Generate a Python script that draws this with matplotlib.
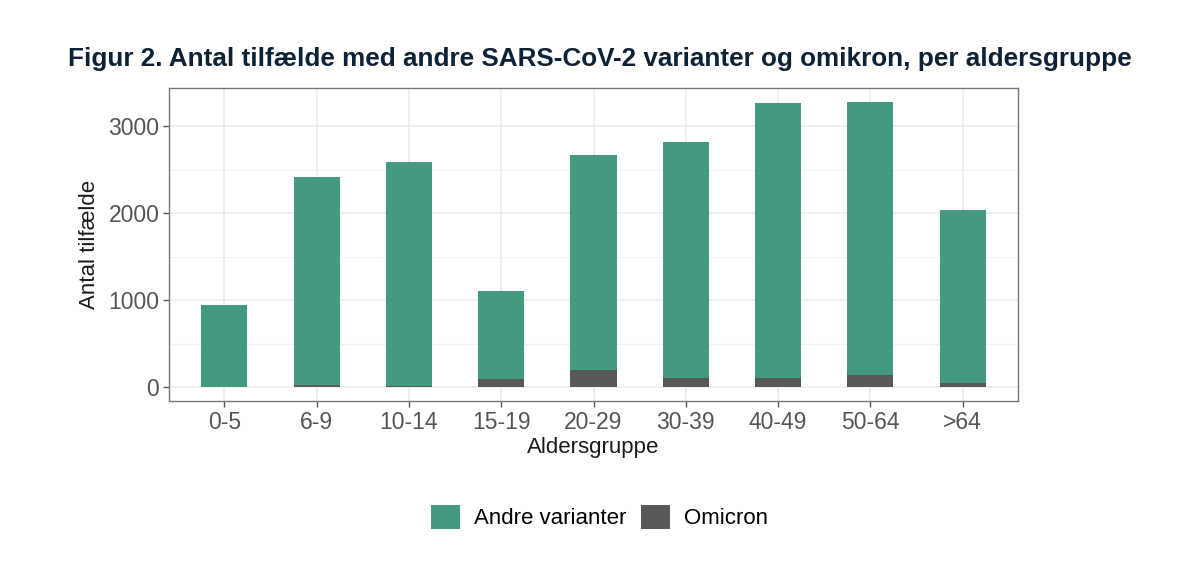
import matplotlib
matplotlib.use("Agg")
import matplotlib.pyplot as plt
from matplotlib.patches import Patch
from matplotlib.ticker import MultipleLocator

# data
age_groups = ["0-5", "6-9", "10-14", "15-19", "20-29", "30-39", "40-49", "50-64", ">64"]
omicron = [3, 19, 17, 92, 200, 104, 104, 142, 50]
andre = [942, 2396, 2575, 1016, 2465, 2711, 3158, 3135, 1985]
y_ticks = [0, 1000, 2000, 3000]

green = "#449a80"
grey = "#595959"

plt.rcParams["font.family"] = ["Liberation Sans", "DejaVu Sans"]

fig = plt.figure(figsize=(11.99, 5.74), dpi=100)
ax = fig.add_axes([0.141, 0.301, 0.708, 0.546])

x = list(range(len(age_groups)))
ax.bar(x, omicron, width=0.5, color=grey, zorder=3)
ax.bar(x, andre, width=0.5, bottom=omicron, color=green, zorder=3)

totals = [a + o for a, o in zip(andre, omicron)]
top = max(totals)
ax.set_ylim(-0.05 * top, 1.05 * top)
ax.set_xlim(-0.6, len(age_groups) - 0.4)

ax.set_xticks(x)
ax.set_xticklabels(age_groups)
ax.set_yticks(y_ticks)
ax.yaxis.set_minor_locator(MultipleLocator(500))

ax.grid(which="major", color="#ebebeb", linewidth=1.1, zorder=0)
ax.grid(which="minor", axis="y", color="#f2f2f2", linewidth=0.8, zorder=0)
ax.set_axisbelow(True)

for s in ax.spines.values():
    s.set_color("#777777")
    s.set_linewidth(1.0)

ax.tick_params(axis="both", which="major", colors="#555555", labelsize=16.5,
               length=4, width=1.0, labelcolor="#555555", pad=3)
ax.tick_params(axis="y", which="minor", length=0)

ax.set_xlabel("Aldersgruppe", fontsize=16, color="#1a1a1a", labelpad=2)
ax.set_ylabel("Antal tilfælde", fontsize=16, color="#1a1a1a", labelpad=6)

fig.text(0.5, 0.897,
         "Figur 2. Antal tilfælde med andre SARS-CoV-2 varianter og omikron, per aldersgruppe",
         ha="center", va="center", fontsize=18.8, fontweight="bold", color="#0e2236")

handles = [Patch(facecolor=green, label="Andre varianter"),
           Patch(facecolor=grey, label="Omicron")]
fig.legend(handles=handles, loc="center", bbox_to_anchor=(0.5, 0.099), ncol=2,
           frameon=False, fontsize=16, handlelength=1.3, handleheight=1.3,
           handletextpad=0.6, columnspacing=0.7)

fig.savefig("out.png", dpi=100)
